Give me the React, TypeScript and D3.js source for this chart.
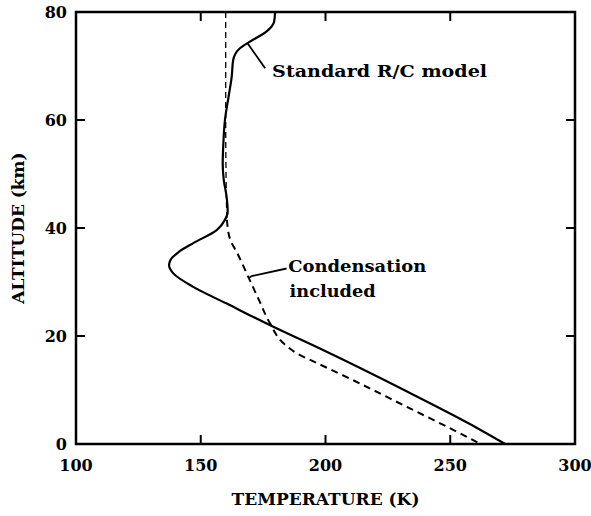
import React from "react";
import * as d3 from "d3";

// Standard R/C model (solid): altitude (km) and temperature (K)
const standardAlt = [80, 78.2, 76.4, 74.5, 73.2, 71.1, 68, 65, 60, 55, 52, 49, 46, 43, 41.5, 39.6, 37.2, 35.5, 34.1, 33.1, 31.6, 29.1, 26, 21.7, 17.4, 10, 3.8, 0];
const standardT = [179.8, 179.4, 176.4, 169.7, 165.5, 163, 162.4, 161.4, 159.7, 159, 158.8, 159.2, 160.3, 160.8, 159.7, 156.4, 147, 141, 137.9, 137.3, 139, 147, 160.4, 179.1, 199, 231.5, 257.5, 272];

// Condensation included (dashed), upper (thin) and lower parts
const condUpperAlt = [80, 60, 45, 41.5];
const condUpperT = [160, 160, 160.3, 160.5];
const condLowerAlt = [41.5, 38, 35, 31, 26.5, 22.3, 18.5, 16.8, 15, 13.1, 6.9, 0.7, 0];
const condLowerT = [160.5, 161.7, 165, 169, 173.5, 177.8, 183.5, 188.5, 196.5, 205.3, 232.5, 259.2, 262];

const xTicks = [100, 150, 200, 250, 300];
const yTicks = [0, 20, 40, 60, 80];
const innerXTicks = [150, 200, 250];
const innerYTicks = [20, 40, 60];

// annotation leader lines in data units: [T, alt]
const stdLeader = [[168.6, 74.3], [175.8, 69.6]];
const condLeader = [[169.1, 30.7], [170.4, 31.1], [184.4, 32.5]];
const stdLabel = { T: 178.6, alt: 67.9, text: "Standard R/C model" };
const condLabel1 = { T: 185.1, alt: 31.85, text: "Condensation" };
const condLabel2 = { T: 185.6, alt: 27.2, text: "included" };

export default function App() {
  const W = 591, H = 516;
  const x = d3.scaleLinear().domain([100, 300]).range([76, 575]);
  const y = d3.scaleLinear().domain([0, 80]).range([444, 12]);

  const curve = (alts: number[], ts: number[]) =>
    d3
      .line<[number, number]>()
      .x((d) => x(d[1]))
      .y((d) => y(d[0]))
      .curve(d3.curveMonotoneY)(alts.map((a, i) => [a, ts[i]] as [number, number]))!;

  const stdPath = curve(standardAlt, standardT);
  const condUpper = curve(condUpperAlt, condUpperT);
  const condLower = curve(condLowerAlt, condLowerT);
  const leader = d3
    .line<number[]>()
    .x((d) => x(d[0]))
    .y((d) => y(d[1]));

  const font = "'DejaVu Serif', serif";
  const tickLen = 9;

  return (
    <svg
      width={W}
      height={H}
      style={{ position: "absolute", left: 0, top: 0, background: "#fff" }}
    >
      <rect x={0} y={0} width={W} height={H} fill="#fff" />
      <rect
        x={x(100)}
        y={y(80)}
        width={x(300) - x(100)}
        height={y(0) - y(80)}
        fill="none"
        stroke="#000"
        strokeWidth={2.5}
      />
      {innerXTicks.map((t) => (
        <g key={"xt" + t}>
          <line x1={x(t)} x2={x(t)} y1={y(0)} y2={y(0) - tickLen} stroke="#000" strokeWidth={2} />
          <line x1={x(t)} x2={x(t)} y1={y(80)} y2={y(80) + tickLen} stroke="#000" strokeWidth={2} />
        </g>
      ))}
      {innerYTicks.map((t) => (
        <g key={"yt" + t}>
          <line x1={x(100)} x2={x(100) + tickLen} y1={y(t)} y2={y(t)} stroke="#000" strokeWidth={2} />
          <line x1={x(300)} x2={x(300) - tickLen} y1={y(t)} y2={y(t)} stroke="#000" strokeWidth={2} />
        </g>
      ))}
      {xTicks.map((t) => (
        <text
          key={"xl" + t}
          x={x(t)}
          y={y(0) + 27}
          textAnchor="middle"
          fontFamily={font}
          fontWeight="bold"
          fontSize={16}
        >
          {t}
        </text>
      ))}
      {yTicks.map((t) => (
        <text
          key={"yl" + t}
          x={x(100) - 9}
          y={y(t) + 6}
          textAnchor="end"
          fontFamily={font}
          fontWeight="bold"
          fontSize={16}
        >
          {t}
        </text>
      ))}
      <text
        x={(x(100) + x(300)) / 2}
        y={505}
        textAnchor="middle"
        fontFamily={font}
        fontWeight="bold"
        fontSize={17}
      >
        TEMPERATURE (K)
      </text>
      <text
        transform={`translate(24, ${(y(0) + y(80)) / 2}) rotate(-90)`}
        textAnchor="middle"
        fontFamily={font}
        fontWeight="bold"
        fontSize={17}
      >
        ALTITUDE (km)
      </text>
      <path d={condUpper} fill="none" stroke="#000" strokeWidth={1.3} strokeDasharray="6,4" />
      <path d={condLower} fill="none" stroke="#000" strokeWidth={2} strokeDasharray="7,5" />
      <path d={stdPath} fill="none" stroke="#000" strokeWidth={2.2} />
      <path d={leader(stdLeader)!} fill="none" stroke="#000" strokeWidth={1.8} />
      <path d={leader(condLeader)!} fill="none" stroke="#000" strokeWidth={1.8} />
      <text x={x(stdLabel.T)} y={y(stdLabel.alt)} fontFamily={font} fontWeight="bold" fontSize={16.5} textLength={215} lengthAdjust="spacingAndGlyphs">
        {stdLabel.text}
      </text>
      <text x={x(condLabel1.T)} y={y(condLabel1.alt)} fontFamily={font} fontWeight="bold" fontSize={16.5} textLength={138} lengthAdjust="spacingAndGlyphs">
        {condLabel1.text}
      </text>
      <text x={x(condLabel2.T)} y={y(condLabel2.alt)} fontFamily={font} fontWeight="bold" fontSize={16.5} textLength={86} lengthAdjust="spacingAndGlyphs">
        {condLabel2.text}
      </text>
    </svg>
  );
}
